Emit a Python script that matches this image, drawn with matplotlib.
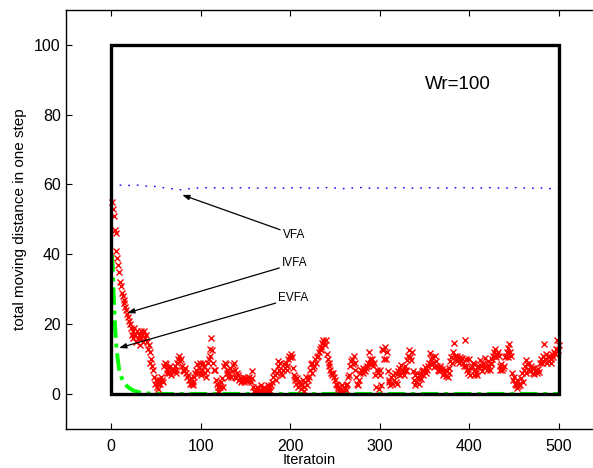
import matplotlib
matplotlib.use("Agg")
import matplotlib.pyplot as plt
from matplotlib.patches import Rectangle

plt.rcParams['font.family'] = ['Liberation Sans', 'DejaVu Sans']

# ---------------- data ----------------
ivfa_y = [
    55, 53, 51, 47, 46, 41, 39, 37, 35, 32,
    31, 29, 28, 27, 26, 25, 24, 23, 22, 21,
    20, 19, 17, 18, 16, 19, 17, 15, 18, 16,
    17, 14, 18, 16, 17, 15, 18, 16, 17, 15,
    13, 14, 12, 9, 10, 8, 7, 5, 3, 4,
    2, 3, 1.5, 4, 3, 5, 4, 3.5, 8, 9,
    8.5, 7, 6, 7.5, 6, 8, 5.5, 7, 6.5, 7,
    8, 6, 7, 9, 10, 11, 9.5, 10, 8, 7,
    7, 6.5, 7.5, 6, 5, 5.5, 4, 3, 4.5, 3,
    2.5, 3.5, 5, 6, 7, 8.5, 6, 7.5, 9, 6,
    5.5, 7, 9, 8, 6, 5, 7, 9, 10, 11,
    13, 16, 12.5, 9, 7, 7, 4, 3, 2, 1,
    0.5, 2, 3.5, 4.5, 2, 8, 9, 8.5, 6, 7,
    5, 6, 7.5, 5, 6.5, 8.3, 9, 7, 5, 4.5,
    6, 5.5, 4, 4.5, 3.5, 4, 5, 4, 3.5, 4.5,
    4, 3.8, 4.2, 5, 4, 3.5, 4.5, 6.5, 2, 1,
    0.5, 1.5, 2, 1, 0.8, 1.2, 2.5, 1, 0.5, 1.5,
    2, 1, 0.7, 1.5, 2.5, 1.2, 2, 1, 2.5, 3.5,
    5, 6.5, 5.5, 4, 6, 9.5, 8, 7, 9, 6,
    5.5, 7, 8.5, 7.5, 9, 8, 7, 10, 11, 10.5,
    11.5, 10.6, 7.5, 5.5, 4, 5, 3, 4.5, 2, 3.5,
    2.5, 1.5, 3, 4, 2, 1, 3.5, 5, 2.5, 4,
    5, 7, 8.5, 6, 9, 7.5, 8, 10, 9, 10.5,
    11, 12, 13, 12.5, 13.5, 14.5, 15.5, 15, 14, 15.5,
    11.5, 10, 9, 8, 7, 6, 5.5, 6, 5, 4,
    3, 2.5, 1.5, 2, 1, 0.8, 1.5, 2.5, 1, 0.5,
    1.8, 2.5, 1.2, 3, 4.8, 5.5, 8, 9.5, 10, 8.5,
    11, 9, 7, 5, 3, 2.7, 4, 6, 7, 6.5,
    7.5, 6, 7, 6.5, 7.6, 8, 9, 12, 10, 9,
    8.5, 10, 8, 9, 5.5, 2, 7, 6, 1.5, 5.5,
    7, 2.5, 13, 12.5, 10, 13.5, 10, 12, 6.6, 3.5,
    4, 2.6, 5, 3, 5.5, 4, 6, 3.5, 2.8, 5.8,
    6.5, 7.5, 5.5, 8.3, 6, 7, 5.5, 8, 6.5, 7,
    9.7, 11, 12.6, 10.5, 9.8, 12, 6.6, 4, 2.7, 5.5,
    3.5, 6, 4.5, 3, 5.8, 4.2, 6.6, 5.5, 7, 6.5,
    7.7, 6, 7, 8, 9, 11.7, 10, 8.5, 10.5, 9,
    7.7, 11, 9.5, 8, 7, 6.5, 7.5, 8, 6.8, 7.2,
    5.5, 6, 7, 5.1, 6.5, 5, 7.5, 6, 9.5, 10.5,
    9, 12, 14.5, 11, 10, 9.5, 11, 10, 9, 10.5,
    9.8, 10.2, 9, 8, 15.5, 10, 8, 7, 6, 10,
    5.5, 7.5, 8, 9, 5.5, 8.5, 7, 6, 5.5, 8,
    7.5, 9.7, 8, 6.5, 8.5, 9, 7.7, 10.3, 8, 7,
    9.5, 8, 7, 9, 8.5, 10, 11, 12, 13, 10.6,
    11.5, 12, 10.8, 8, 7, 8.5, 6.9, 7.5, 8, 10.6,
    11, 12, 13.3, 10.6, 14.3, 12, 11, 6, 4, 5,
    3, 2.5, 4, 1.7, 2.2, 3, 2.7, 4.5, 6, 3.5,
    7, 8, 9.7, 6, 8.5, 7, 9, 6.5, 8, 7.5,
    6, 7.5, 5.7, 6.5, 7, 6, 7.2, 6.3, 9, 10,
    8.8, 11, 9.5, 14.3, 10, 11.6, 9, 10.5, 9.5, 11,
    10, 9, 11.6, 10.5, 12, 11.6, 13, 15.5, 12.6, 14,
]
ivfa_x = list(range(1, len(ivfa_y) + 1))

vfa_x = list(range(0, 501, 10))
vfa_y = [60, 59.8, 59.7, 59.8, 59.5, 59.4, 59.0, 58.7, 58.4, 58.9,
         59.0, 59.1, 59.0, 58.9, 59.0, 59.1, 58.9, 59.0, 59.1, 58.9,
         59.0, 59.1, 58.9, 59.0, 59.1, 59.0, 58.8, 59.0, 59.1, 58.9,
         59.0, 58.9, 59.1, 59.0, 58.9, 59.0, 59.1, 58.9, 59.0, 59.1,
         59.0, 58.9, 59.1, 59.0, 58.9, 59.1, 59.0, 58.9, 59.0, 58.8, 58.9]

evfa_x = [1, 2, 3, 4, 5, 6, 7, 8, 9, 10, 12, 14, 17, 20, 25, 30, 35, 40, 50,
          60, 100, 200, 300, 400, 500]
evfa_y = [40, 36, 28, 22, 17, 13.5, 11, 9, 7, 6, 4.5, 3.5, 2.5, 1.8, 1.0, 0.6,
          0.3, 0.2, 0.1, 0.05, 0.05, 0.05, 0.05, 0.05, 0.05]

xticks = [0, 100, 200, 300, 400, 500]
yticks = [0, 20, 40, 60, 80, 100]

# ---------------- figure ----------------
fig = plt.figure(figsize=(5.93, 4.68), dpi=100)
ax = fig.add_axes([0.1118, 0.0833, 0.9057, 0.896])

ax.plot(evfa_x, evfa_y, color=(0, 1, 0), linestyle=(0, (4.5, 1.5, 1, 1.5)), linewidth=2.8)
ax.plot(ivfa_x, ivfa_y, linestyle='none', marker='x', color='red',
        markersize=4.3, markeredgewidth=1.0)
ax.plot(vfa_x, vfa_y, color='blue', linestyle=(0, (1.2, 5)), linewidth=1.0)

ax.add_patch(Rectangle((0, 0), 500, 100, fill=False, edgecolor='black',
                       linewidth=2.4, zorder=5))

ax.set_xlim(-50, 550)
ax.set_ylim(-10, 110)
ax.set_xticks(xticks)
ax.set_yticks(yticks)
ax.tick_params(direction='in', length=4, width=0.8, top=True, right=False,
               labelsize=11.5)
ax.tick_params(axis='x', pad=7)
ax.tick_params(axis='y', pad=4)
for s in ax.spines.values():
    s.set_linewidth(1.0)
ax.spines['right'].set_visible(False)

ax.set_xlabel('Iteratoin', fontsize=10.5)
ax.xaxis.set_label_coords(0.452, -0.058)
ax.set_ylabel('total moving distance in one step', fontsize=11)
ax.yaxis.set_label_coords(-0.074, 0.5)

ax.text(351, 88.5, 'Wr=100', fontsize=13.5, va='center', ha='left')

arrow = dict(arrowstyle='-|>,head_length=0.5,head_width=0.18', color='black',
             linewidth=0.9, shrinkA=0, shrinkB=0)
ax.annotate('VFA', xy=(79.5, 57), xytext=(192, 45.6), fontsize=8.5,
            va='center', ha='left', arrowprops=arrow)
ax.annotate('IVFA', xy=(18, 23.2), xytext=(191, 37.4), fontsize=8.5,
            va='center', ha='left', arrowprops=arrow)
ax.annotate('EVFA', xy=(9, 13.2), xytext=(187, 27.5), fontsize=8.5,
            va='center', ha='left', arrowprops=arrow)

fig.savefig('out.png', dpi=100)
